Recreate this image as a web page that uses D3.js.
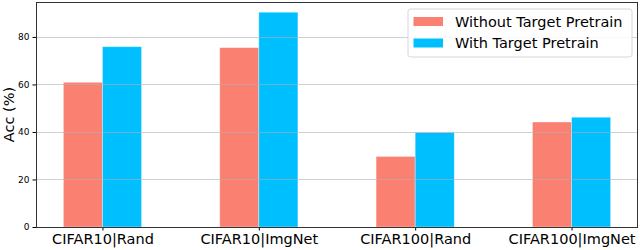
<!DOCTYPE html>
<html>
<head>
<meta charset="utf-8">
<script src="https://cdn.jsdelivr.net/npm/d3@7"></script>
<style>
	body { margin: 0; background: #fff; }
	svg { display: block; }
</style>
</head>
<body>
<div id="container"></div>
<script>
// ==============
//	DATA
// ==============

var categories = ["CIFAR10|Rand", "CIFAR10|ImgNet", "CIFAR100|Rand", "CIFAR100|ImgNet"];
var seriesNames = ["Without Target Pretrain", "With Target Pretrain"];
var withoutPretrain = [60.9, 75.5, 29.7, 44.2];
var withPretrain = [75.9, 90.4, 39.8, 46.2];
var yTicks = [0, 20, 40, 60, 80];

// ==============
//	OPTIONS
// ==============

var W = 640, H = 250,
	margin = {top: 2, right: 2, bottom: 23, left: 36},
	width = W - margin.left - margin.right,
	height = H - margin.top - margin.bottom;

var palette = ["#FA8072", "#00BFFF"],
	font = "'DejaVu Sans', sans-serif";

var svg = d3.select("#container").append("svg")
	.attr("width", W)
	.attr("height", H)
		.append("g")
			.attr("transform", "translate(" + margin.left + "," + margin.top + ")");

// matplotlib-like bar layout: centers at 0..n-1, bar width 0.25 each
var barW = 0.25;
var x = d3.scaleLinear()
	.domain([-0.425, categories.length - 1 + 0.425])
	.range([0, width]);

var y = d3.scaleLinear()
	.domain([0, 94.7])
	.range([height, 0]);

var series = [withoutPretrain, withPretrain];

// === bars
series.forEach(function(vals, s) {
	svg.append("g")
		.selectAll("rect")
			.data(vals)
			.join("rect")
			.attr("x", (d, i) => x(i - barW + s * barW))
			.attr("y", d => y(d))
			.attr("width", x(barW) - x(0))
			.attr("height", d => y(0) - y(d))
			.attr("fill", palette[s])
			.attr("stroke", "#fff")
			.attr("stroke-opacity", 0.45)
			.attr("stroke-width", 0.8);
});

// === grid (drawn over bars)
svg.append("g")
	.selectAll("line")
		.data(yTicks.slice(1))
		.join("line")
		.attr("x1", 0)
		.attr("x2", width)
		.attr("y1", d => Math.round(y(d)) + 0.5)
		.attr("y2", d => Math.round(y(d)) + 0.5)
		.attr("stroke", "#b0b0b0")
		.attr("stroke-opacity", 0.6)
		.attr("stroke-width", 1);

// === axes
var yAxis = svg.append("g")
	.call(d3.axisLeft(y).tickValues(yTicks).tickSize(3.5).tickPadding(3));
yAxis.select(".domain").remove();
yAxis.selectAll("text").style("font", "9px " + font).attr("fill", "#000");

var xAxis = svg.append("g")
	.attr("transform", "translate(0," + height + ")")
	.call(d3.axisBottom(x).tickValues(d3.range(categories.length))
		.tickFormat(i => categories[i]).tickSize(3.5).tickPadding(3));
xAxis.select(".domain").remove();
xAxis.selectAll("text").style("font", "14.5px " + font).attr("fill", "#000");

// frame
svg.append("rect")
	.attr("x", 0.5)
	.attr("y", 0.5)
	.attr("width", width - 1)
	.attr("height", height)
	.attr("fill", "none")
	.attr("stroke", "#333")
	.attr("stroke-width", 1);

// y label
svg.append("text")
	.attr("transform", "translate(" + (-22.5) + "," + (height / 2) + ") rotate(-90)")
	.attr("text-anchor", "middle")
	.style("font", "14.5px " + font)
	.text("Acc (%)");

// ==============
//	LEGEND
// ==============

var legend = svg.append("g")
	.attr("transform", "translate(" + (408 - margin.left) + "," + (9 - margin.top) + ")");

legend.append("rect")
	.attr("x", 0)
	.attr("y", 0)
	.attr("width", 224)
	.attr("height", 48)
	.attr("rx", 2.5)
	.attr("fill", "#fff")
	.attr("fill-opacity", 0.85)
	.attr("stroke", "#d6d6d6");

var item = legend.selectAll("g.item")
	.data(seriesNames)
	.join("g")
	.attr("class", "item")
	.attr("transform", (d, i) => "translate(0," + (i * 21.5) + ")");

item.append("rect")
	.attr("x", 5.5)
	.attr("y", 8)
	.attr("width", 29.5)
	.attr("height", 9)
	.attr("fill", (d, i) => palette[i]);

item.append("text")
	.attr("x", 47)
	.attr("y", 12.5)
	.attr("dy", "0.36em")
	.style("font", "14.5px " + font)
	.text(d => d);
</script>
</body>
</html>
